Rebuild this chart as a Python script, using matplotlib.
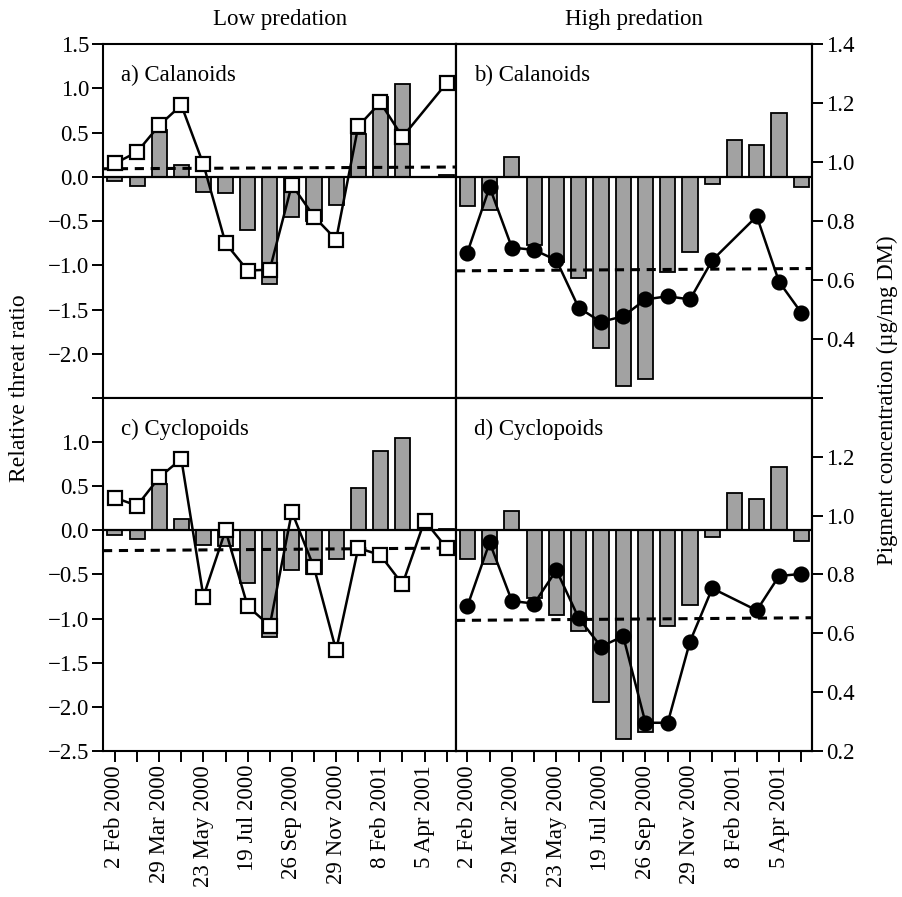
import numpy as np
import matplotlib
matplotlib.use('Agg')
import matplotlib.pyplot as plt

plt.rcParams['font.family'] = ['Liberation Serif', 'DejaVu Serif']

# ---------------- data ----------------
positions = np.arange(1, 17)
date_labels = ['2 Feb 2000', '', '29 Mar 2000', '', '23 May 2000', '',
               '19 Jul 2000', '', '26 Sep 2000', '', '29 Nov 2000', '',
               '8 Feb 2001', '', '5 Apr 2001', '']

# relative threat ratio (bars)
bars_low = [-0.05, -0.10, 0.53, 0.13, -0.17, -0.18, -0.60, -1.21,
            -0.45, -0.50, -0.32, 0.48, 0.90, 1.05, 0.0, 0.02]
bars_high = [-0.33, -0.38, 0.22, -0.77, -0.96, -1.14, -1.94, -2.36,
             -2.28, -1.08, -0.85, -0.08, 0.42, 0.36, 0.72, -0.12]

nan = np.nan
# low predation lines (open squares, left scale)
cal_low = [0.15, 0.28, 0.58, 0.81, 0.14, -0.75, -1.06, -1.05,
           -0.09, -0.45, -0.71, 0.57, 0.84, 0.45, nan, 1.06]
cyc_low = [0.37, 0.28, 0.60, 0.81, -0.75, 0.0, -0.86, -1.08,
           0.21, -0.42, -1.36, -0.20, -0.28, -0.61, 0.11, -0.20]
# high predation lines (filled circles, pigment scale)
cal_high = [0.693, 0.915, 0.710, 0.702, 0.667, 0.506, 0.458, 0.477,
            0.534, 0.545, 0.534, 0.667, nan, 0.816, 0.594, 0.489]
cyc_high = [0.692, 0.909, 0.710, 0.701, 0.815, 0.652, 0.555, 0.590,
            0.296, 0.296, 0.572, 0.753, nan, 0.678, 0.795, 0.802]

# dashed reference lines (start, end)
cal_low_ref = [0.09, 0.11]
cyc_low_ref = [-0.23, -0.20]
cal_high_ref = [0.631, 0.639]
cyc_high_ref = [0.644, 0.653]

left_ticks_a = [-2.5, -2.0, -1.5, -1.0, -0.5, 0.0, 0.5, 1.0, 1.5]
left_ticks_c = [-2.5, -2.0, -1.5, -1.0, -0.5, 0.0, 0.5, 1.0]
right_ticks_b = [0.2, 0.4, 0.6, 0.8, 1.0, 1.2, 1.4]
right_ticks_d = [0.2, 0.4, 0.6, 0.8, 1.0, 1.2, 1.4]

# ---------------- figure ----------------
W, H = 902, 897
fig = plt.figure(figsize=(W / 100, H / 100), dpi=100)

def frac(x0, y0, x1, y1):
    return [x0 / W, 1 - y1 / H, (x1 - x0) / W, (y1 - y0) / H]

FS = 16.5
BAR_FC = '#a2a2a2'
XL_L = (0.46, 16.42)
XL_R = (0.49, 16.48)
YL = (-2.5, 1.5)
YR = (0.2, 1.4)

ax_a = fig.add_axes(frac(103, 44, 456, 398))
ax_c = fig.add_axes(frac(103, 398, 456, 751))
ax_b = fig.add_axes(frac(456, 44, 812, 398))
ax_d = fig.add_axes(frac(456, 398, 812, 751))

def style(ax):
    for s in ax.spines.values():
        s.set_linewidth(1.5)
    ax.tick_params(direction='out', length=8, width=1.4, labelsize=FS, pad=2)

def draw_bars(ax, vals):
    ax.bar(positions, vals, width=0.68, color=BAR_FC, edgecolor='black',
           linewidth=1.3, zorder=2)
    ax.axhline(0, color='black', lw=1.6, zorder=3)

def draw_line(ax, vals, marker, mfc, ms):
    v = np.array(vals, dtype=float)
    m = ~np.isnan(v)
    ax.plot(positions[m], v[m], '-', color='black', lw=1.8, marker=marker,
            mfc=mfc, mec='black', mew=1.6, ms=ms, zorder=5)

def draw_ref(ax, xl, ref):
    ax.plot(list(xl), ref, color='black', lw=2.2, ls=(0, (3, 2.2)), zorder=4)

# low predation panels
for ax, line, ref, ticks, lab in [
        (ax_a, cal_low, cal_low_ref, left_ticks_a, 'a) Calanoids'),
        (ax_c, cyc_low, cyc_low_ref, left_ticks_c, 'c) Cyclopoids')]:
    style(ax)
    draw_bars(ax, bars_low)
    draw_ref(ax, XL_L, ref)
    draw_line(ax, line, 's', 'white', 10.5)
    ax.set_xlim(*XL_L)
    ax.set_ylim(*YL)
    ax.set_yticks(ticks)
    ax.set_yticklabels(['' if (ax is ax_a and t == -2.5) else
                        f'{t:.1f}'.replace('-', '\u2212') for t in ticks])
    ax.text(0.05, 0.94, lab, transform=ax.transAxes, fontsize=FS,
            va='top', ha='left')

# high predation panels
for ax, line, ref, ticks, lab in [
        (ax_b, cal_high, cal_high_ref, right_ticks_b, 'b) Calanoids'),
        (ax_d, cyc_high, cyc_high_ref, right_ticks_d, 'd) Cyclopoids')]:
    style(ax)
    draw_bars(ax, bars_high)
    ax.set_xlim(*XL_R)
    ax.set_ylim(*YL)
    tw = ax.twinx()
    ax.tick_params(axis='y', left=False, labelleft=False,
                   right=False, labelright=False)
    style(tw)
    tw.set_ylim(*YR)
    draw_ref(tw, XL_R, ref)
    draw_line(tw, line, 'o', 'black', 10)
    tw.set_xlim(*XL_R)
    tw.set_yticks(ticks)
    tw.tick_params(axis='y', left=False, labelleft=False)
    if ax is ax_b:
        tw.set_yticklabels(['' if t == 0.2 else f'{t:.1f}' for t in ticks])
    else:
        tw.set_yticklabels(['' if t == 1.4 else f'{t:.1f}' for t in ticks])
    ax.text(0.05, 0.94, lab, transform=ax.transAxes, fontsize=FS,
            va='top', ha='left', zorder=10)

for ax in (ax_a, ax_b):
    ax.tick_params(axis='x', bottom=False, labelbottom=False)

for ax in (ax_c, ax_d):
    ax.set_xticks(positions)
    ax.set_xticklabels(date_labels, rotation=90, fontsize=FS)

fig.text(280 / W, 1 - 20 / H, 'Low predation', ha='center', va='center',
         fontsize=FS)
fig.text(634 / W, 1 - 20 / H, 'High predation', ha='center', va='center',
         fontsize=FS)
fig.text(20 / W, 1 - 388 / H, 'Relative threat ratio', rotation=90,
         ha='center', va='center', fontsize=17)
fig.text(887 / W, 1 - 400 / H, 'Pigment concentration (\u00b5g/mg DM)',
         rotation=90, ha='center', va='center', fontsize=FS)

fig.savefig('out.png', dpi=100)
